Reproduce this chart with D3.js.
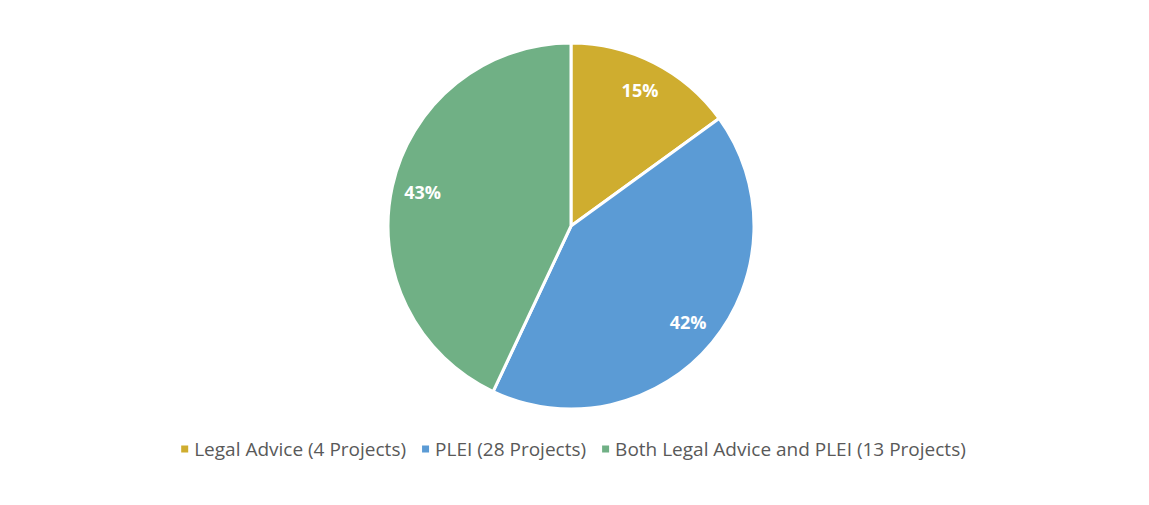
<!DOCTYPE html>
<html>
<head>
<meta charset="utf-8">
<script src="https://cdn.jsdelivr.net/npm/d3@7"></script>
<style>
  body { margin: 0; background: #fff; }
  text { font-family: "Open Sans", "Noto Sans", sans-serif; }
</style>
</head>
<body>
<div id="chart"></div>
<script>
const categories = ['Legal Advice (4 Projects)', 'PLEI (28 Projects)', 'Both Legal Advice and PLEI (13 Projects)'];
const shares = [15, 42, 43];
const colors = ['#CFAD2F', '#5B9BD5', '#70B085'];

const width = 1149, height = 505;
const cx = 571, cy = 226, radius = 183;

const svg = d3.select('#chart')
  .append('svg')
  .attr('width', width)
  .attr('height', height);

const data = categories.map((c, i) => ({ name: c, value: shares[i], color: colors[i] }));

const pie = d3.pie().value(d => d.value).sort(null);
const arc = d3.arc().innerRadius(0).outerRadius(radius);
const labelArc = d3.arc().innerRadius(152).outerRadius(152);

const graph = svg.append('g')
  .attr('transform', `translate(${cx}, ${cy})`);

const slices = pie(data);

graph.selectAll('path')
  .data(slices)
  .enter()
  .append('path')
  .attr('d', arc)
  .attr('fill', d => d.data.color)
  .attr('stroke', '#fff')
  .attr('stroke-width', 3)
  .attr('stroke-linejoin', 'round');

graph.selectAll('text')
  .data(slices)
  .enter()
  .append('text')
  .attr('transform', d => `translate(${labelArc.centroid(d)})`)
  .attr('text-anchor', 'middle')
  .attr('dy', '0.35em')
  .attr('fill', '#fff')
  .attr('font-weight', 'bold')
  .attr('font-size', 18)
  .text(d => d.data.value + '%');

// legend
const legend = svg.append('g')
  .attr('transform', 'translate(0, 449)');

const items = legend.selectAll('g')
  .data(data)
  .enter()
  .append('g');

items.append('rect')
  .attr('width', 7)
  .attr('height', 7)
  .attr('y', -3.5)
  .attr('fill', d => d.color);

items.append('text')
  .attr('x', 13)
  .attr('dy', '0.35em')
  .attr('fill', '#595959')
  .attr('font-size', 19)
  .text(d => d.name);

// lay legend items in a centred row
let x = 0;
const gap = 16;
const offsets = [];
items.each(function () {
  offsets.push(x);
  x += this.getBBox().width + gap;
});
const total = x - gap;
const start = (width - total) / 2 - 1;
items.attr('transform', (d, i) => `translate(${start + offsets[i]}, 0)`);
</script>
</body>
</html>
